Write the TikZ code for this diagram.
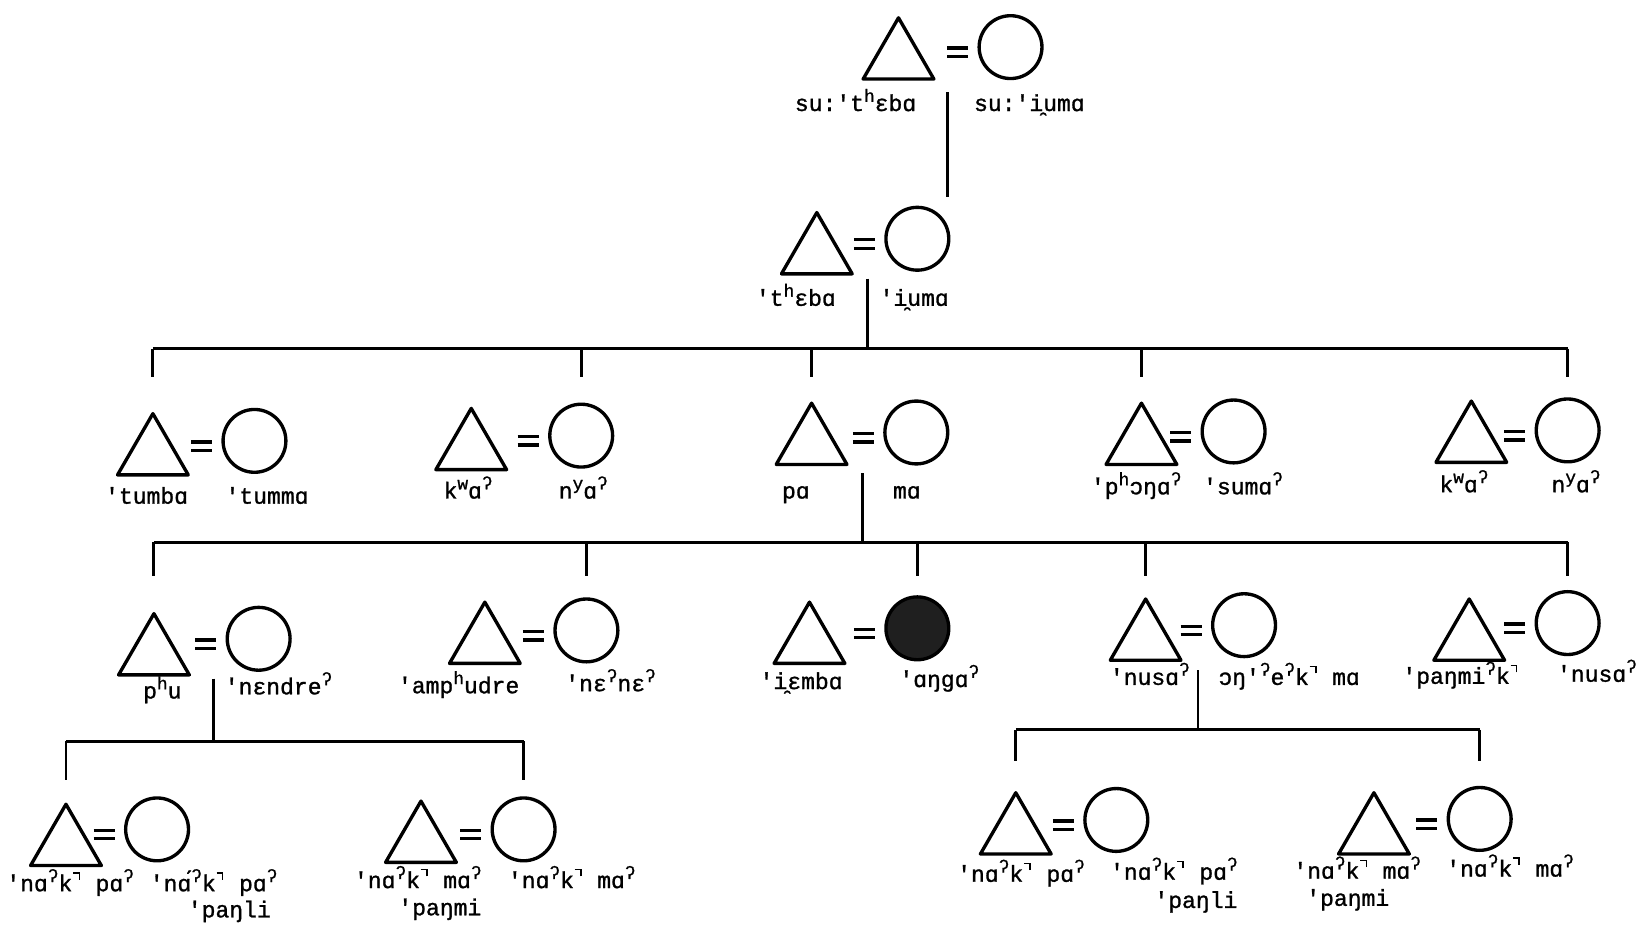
\documentclass[tikz,border=0pt]{standalone}
\usepackage{fontspec}
\usetikzlibrary{shapes.geometric,calc}
\newfontfamily\ipa[FakeBold=1.2]{Liberation Mono}
\newcommand\sps[1]{\raisebox{0.75ex}{\fontsize{8.5}{8.5}\selectfont #1}}
\newcommand\gsx{\sps{ʔ}}
\newcommand\ur{\kern0.03em\rule[1.45ex]{0.3em}{0.06em}\kern-0.06em\rule[0.95ex]{0.06em}{0.55ex}\kern0.08em}
\newcommand\couple[6][]{%
  \node[male] (t#2) at (#3,{#4+39}) {};
  \node[female,#1] (c#2) at (#5,#6) {};
  \coordinate (e#2) at ($(c#2.west)+(-19,5)$);
  \draw[eqbar] ($(e#2)+(-10,-4)$) -- ($(e#2)+(10,-4)$);
  \draw[eqbar] ($(e#2)+(-10,4)$) -- ($(e#2)+(10,4)$);
}
\begin{document}
\begin{tikzpicture}[x=0.5pt,y=-0.5pt,
  male/.style={draw,regular polygon,regular polygon sides=3,minimum size=39pt,inner sep=0pt,line width=1.6pt,line join=round},
  female/.style={draw,circle,minimum size=30pt,inner sep=0pt,line width=1.6pt},
  eqbar/.style={line width=1.6pt},
  kin/.style={line width=1.4pt},
  lab/.style={font=\ipa\fontsize{11}{13}\selectfont,inner sep=0pt,anchor=base}]
\fill[white] (0,0) rectangle (1568,883);
\useasboundingbox (0,0) rectangle (1568,883);

% couples
\couple{0}{858}{17}{965}{45}
\couple{1}{780}{203}{876}{228}
\couple{31}{146}{395}{243}{421}
\couple{32}{450}{390}{555}{416}
\couple{33}{775}{385}{875}{413}
\couple{34}{1090}{385}{1178}{412}
\couple{35}{1405}{383}{1497}{411}
\couple{41}{147}{586}{247}{610}
\couple{42}{463}{575}{560}{602}
\couple[fill=black!88]{43}{773}{575}{876}{600}
\couple{44}{1094}{572}{1188}{597}
\couple{45}{1403}{572}{1497}{595}
\couple{51}{63}{768}{150}{792}
\couple{52}{402}{765}{500}{792}
\couple{53}{970}{757}{1066}{783}
\couple{54}{1312}{757}{1413}{782}

% labels
\node[lab] (n0a) at (817,106) {su:'t\sps{h}ɛbɑ};
\node[lab] (n0b) at (983,106) {su:'i̯umɑ};
\node[lab] (n1a) at (760,292) {'t\sps{h}ɛbɑ};
\node[lab] (n1b) at (873,292) {'i̯umɑ};
\node[lab] (n31a) at (140,481) {'tumbɑ};
\node[lab] (n31b) at (255,481) {'tummɑ};
\node[lab] (n32a) at (447,476) {k\sps{w}ɑ\gsx};
\node[lab] (n32b) at (557,476) {n\sps{y}ɑ\gsx};
\node[lab] (n33a) at (760,476) {pɑ};
\node[lab] (n33b) at (866,476) {mɑ};
\node[lab] (n34a) at (1085,472) {'p\sps{h}ɔŋɑ\gsx};
\node[lab] (n34b) at (1187,472) {'sumɑ\gsx};
\node[lab] (n35a) at (1398,470) {k\sps{w}ɑ\gsx};
\node[lab] (n35b) at (1505,470) {n\sps{y}ɑ\gsx};
\node[lab] (n41a) at (155,667) {p\sps{h}u};
\node[lab] (n41b) at (266,663) {'nɛndre\gsx};
\node[lab] (n42a) at (438,662) {'amp\sps{h}udre};
\node[lab] (n42b) at (583,660) {'nɛ\gsx nɛ\gsx};
\node[lab] (n43a) at (765,658) {'i̯ɛmbɑ};
\node[lab] (n43b) at (897,656) {'ɑŋgɑ\gsx};
\node[lab] (n44a) at (1098,654) {'nusɑ\gsx};
\node[lab] (n44b) at (1231,654) {ɔŋ'\gsx e\gsx k\ur{} mɑ};
\node[lab] (n45a) at (1395,653) {'paŋmi\gsx k\ur};
\node[lab] (n45b) at (1525,651) {'nusɑ\gsx};
\node[lab] (n51a) at (67,851) {'nɑ\gsx k\ur{} pɑ\gsx};
\node[lab] (n51b) at (204,851) {'nɑ́\gsx k\ur{} pɑ\gsx};
\node[lab] (n51c) at (219,876) {'paŋli};
\node[lab] (n52a) at (399,848) {'nɑ\gsx k\ur{} mɑ\gsx};
\node[lab] (n52b) at (546,848) {'nɑ\gsx k\ur{} mɑ\gsx};
\node[lab] (n52c) at (420,874) {'paŋmi};
\node[lab] (n53a) at (975,842) {'nɑ\gsx k\ur{} pɑ\gsx};
\node[lab] (n53b) at (1121,840) {'nɑ\gsx k\ur{} pɑ\gsx};
\node[lab] (n53c) at (1142,867) {'paŋli};
\node[lab] (n54a) at (1296,839) {'nɑ\gsx k\ur{} mɑ\gsx};
\node[lab] (n54b) at (1442,837) {'nɑ\gsx k\ur{} mɑ\gsx};
\node[lab] (n54c) at (1287,865) {'paŋmi};

% descent lines and sibling bars
\coordinate (v0a) at (905,88);  \coordinate (v0b) at (905,188);
\draw[kin] (v0a) -- (v0b);
\coordinate (v1a) at (828,266); \coordinate (b3) at (828,333); \coordinate (d3) at (0,360);
\draw[kin] (v1a) -- (b3);
\draw[kin] (t31 |- b3) -- (c35 |- b3);
\foreach \n in {t31,c32,t33,t34,c35} \draw[kin] (\n |- b3) -- (\n |- d3);

\coordinate (v33a) at (824,452); \coordinate (b4) at (824,518); \coordinate (d4) at (0,550);
\draw[kin] (v33a) -- (b4);
\draw[kin] (t41 |- b4) -- (c45 |- b4);
\foreach \n in {t41,c42,c43,t44,c45} \draw[kin] (\n |- b4) -- (\n |- d4);

\coordinate (v41a) at (204,648); \coordinate (b5l) at (204,708); \coordinate (d5l) at (0,745);
\draw[kin] (v41a) -- (b5l);
\draw[kin] (t51 |- b5l) -- (c52 |- b5l);
\foreach \n in {t51,c52} \draw[kin] (\n |- b5l) -- (\n |- d5l);

\coordinate (v44a) at (1144,640); \coordinate (b5r) at (1144,697); \coordinate (d5r) at (0,727);
\draw[kin] (v44a) -- (b5r);
\draw[kin] (t53 |- b5r) -- (c54 |- b5r);
\foreach \n in {t53,c54} \draw[kin] (\n |- b5r) -- (\n |- d5r);
\end{tikzpicture}
\end{document}
